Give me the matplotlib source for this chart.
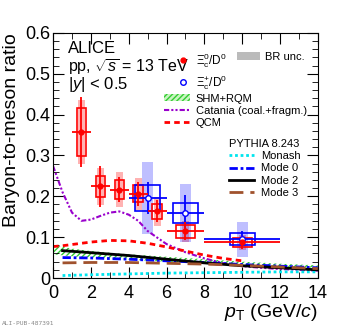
import matplotlib
matplotlib.use('Agg')
import matplotlib.pyplot as plt
import numpy as np
from matplotlib.patches import Rectangle, Patch
from matplotlib.lines import Line2D
from matplotlib.ticker import MultipleLocator

plt.rcParams['font.family'] = ['Liberation Sans', 'DejaVu Sans']
plt.rcParams['mathtext.fontset'] = 'custom'
plt.rcParams['mathtext.rm'] = 'Liberation Sans'
plt.rcParams['mathtext.it'] = 'Liberation Sans:italic'
plt.rcParams['hatch.linewidth'] = 1.0

# Xi_c0 / D0
pt_xi0 = [1.5, 2.5, 3.5, 4.5, 5.5, 7.0, 10.0]
bin_xi0 = [0.5, 0.5, 0.5, 0.5, 0.5, 1.0, 2.0]
ratio_xi0 = [0.357, 0.224, 0.216, 0.206, 0.163, 0.114, 0.087]
stat_xi0 = [0.086, 0.050, 0.031, 0.029, 0.027, 0.022, 0.015]
syst_xi0 = [0.058, 0.025, 0.023, 0.021, 0.018, 0.015, 0.012]
br_xi0 = [0.078, 0.045, 0.043, 0.039, 0.036, 0.025, 0.018]

# Xi_c+ / D0
pt_xip = [5.0, 7.0, 10.0]
bin_xip = [1.0, 1.0, 2.0]
ratio_xip = [0.196, 0.159, 0.095]
stat_xip = [0.040, 0.045, 0.020]
syst_xip = [0.032, 0.024, 0.014]
br_xip = [0.088, 0.072, 0.043]

# models
pt_cat = [0, 0.5, 1, 1.5, 2, 2.5, 3, 3.5, 4, 4.5, 5, 5.5, 6, 7, 8, 9, 10, 11, 12, 13, 14]
catania = [0.274, 0.21, 0.16, 0.14, 0.143, 0.152, 0.16, 0.163, 0.155, 0.14, 0.115, 0.099,
           0.083, 0.063, 0.048, 0.036, 0.029, 0.025, 0.022, 0.02, 0.018]
pt_qcm = [0, 0.5, 1, 1.5, 2, 3, 4, 5, 6, 7, 8, 9, 10]
qcm = [0.077, 0.079, 0.082, 0.085, 0.088, 0.092, 0.091, 0.085, 0.076, 0.066, 0.056, 0.048, 0.042]
pt_shm = [0, 1, 2, 3, 4, 6, 8, 10, 12, 14]
shm_lo = [0.058, 0.053, 0.050, 0.048, 0.045, 0.040, 0.035, 0.031, 0.028, 0.025]
shm_hi = [0.081, 0.072, 0.066, 0.062, 0.058, 0.052, 0.046, 0.040, 0.035, 0.031]
pt_py = [0.5, 2, 4, 6, 8, 10, 12, 14]
monash = [0.006, 0.008, 0.010, 0.012, 0.013, 0.014, 0.015, 0.015]
mode0 = [0.050, 0.049, 0.046, 0.042, 0.038, 0.033, 0.029, 0.025]
mode2 = [0.067, 0.062, 0.055, 0.046, 0.037, 0.030, 0.025, 0.020]
mode3 = [0.037, 0.038, 0.038, 0.036, 0.034, 0.031, 0.027, 0.023]

x_ticks = [0, 2, 4, 6, 8, 10, 12, 14]
y_ticks = [0, 0.1, 0.2, 0.3, 0.4, 0.5, 0.6]
y_ticklabels = ['0', '0.1', '0.2', '0.3', '0.4', '0.5', '0.6']

fig = plt.figure(figsize=(3.54, 3.29), dpi=100)
ax = fig.add_axes([0.150, 0.155, 0.748, 0.745])

# models
ax.fill_between(pt_shm, shm_lo, shm_hi, facecolor='none', edgecolor='#33cc33', hatch='//////', linewidth=0)
ax.plot(pt_cat, catania, color='#9900cc', lw=1.5, ls=(0, (2.5, 1, 1, 1, 1, 1)))
ax.plot(pt_qcm, qcm, color='#ff0000', lw=2, ls=(0, (2, 1.5)))
ax.plot(pt_py, monash, color='#00e5ee', lw=2, ls=(0, (1, 1)))
ax.plot(pt_py, mode0, color='#0000ff', lw=2, ls=(0, (3, 1, 1, 1)))
ax.plot(pt_py, mode2, color='black', lw=2)
ax.plot(pt_py, mode3, color='#a0522d', lw=2, ls=(0, (5, 2.5)))

# BR uncertainty boxes
for x, y, e in zip(pt_xi0, ratio_xi0, br_xi0):
    ax.add_patch(Rectangle((x - 0.18, y - e), 0.36, 2 * e, facecolor='#ff0000', alpha=0.3, lw=0))
for x, y, e in zip(pt_xip, ratio_xip, br_xip):
    ax.add_patch(Rectangle((x - 0.3, y - e), 0.6, 2 * e, facecolor='#0000ff', alpha=0.25, lw=0))

# systematic boxes
for x, w, y, e in zip(pt_xi0, bin_xi0, ratio_xi0, syst_xi0):
    hw = 0.25 if w < 1 else 0.5
    ax.add_patch(Rectangle((x - hw, y - e), 2 * hw, 2 * e, facecolor='none', edgecolor='#ff0000', lw=1.2))
for x, y, e in zip(pt_xip, ratio_xip, syst_xip):
    ax.add_patch(Rectangle((x - 0.65, y - e), 1.3, 2 * e, facecolor='none', edgecolor='#0000ff', lw=1.2))

# stat errors
ax.errorbar(pt_xip, ratio_xip, xerr=bin_xip, yerr=stat_xip, fmt='o', ms=4, mfc='white', mec='#0000ff',
            mew=1, ecolor='#0000ff', elinewidth=1.3, capsize=0)
ax.errorbar(pt_xi0, ratio_xi0, xerr=bin_xi0, yerr=stat_xi0, fmt='o', ms=3.5, color='#ff0000',
            ecolor='#ff0000', elinewidth=1.3, capsize=0)

ax.set_xlim(0, 14)
ax.set_ylim(0, 0.6)
ax.set_xticks(x_ticks)
ax.set_yticks(y_ticks)
ax.set_yticklabels(y_ticklabels)
ax.xaxis.set_minor_locator(MultipleLocator(1))
ax.yaxis.set_minor_locator(MultipleLocator(0.02))
ax.tick_params(which='both', direction='in', top=True, right=True, labelsize=13)
ax.tick_params(axis='y', pad=2)
ax.tick_params(axis='x', pad=5)
ax.tick_params(which='major', length=8)
ax.tick_params(which='minor', length=4)

ax.set_ylabel('Baryon-to-meson ratio', fontsize=14, loc='top', labelpad=4)
ax.set_xlabel(r'$p_{\rm T}$ (GeV/$c$)', fontsize=14, loc='right', labelpad=0)

ax.text(0.055, 0.935, 'ALICE', transform=ax.transAxes, fontsize=12, va='center')
ax.text(0.055, 0.862, r'pp, $\sqrt{s}$ = 13 TeV', transform=ax.transAxes, fontsize=11.5, va='center')
ax.text(0.055, 0.79, r'$|y|$ < 0.5', transform=ax.transAxes, fontsize=12, va='center')

h_xi0 = Line2D([], [], ls='none', marker='o', ms=3.5, color='#ff0000')
h_xip = Line2D([], [], ls='none', marker='o', ms=4, mfc='white', mec='#0000ff')
leg1 = ax.legend([h_xi0, h_xip], [r'$\Xi_{\rm c}^{0}/{\rm D}^{0}$', r'$\Xi_{\rm c}^{+}/{\rm D}^{0}$'],
                 loc='upper left', bbox_to_anchor=(0.445, 0.95), frameon=False, fontsize=8.5,
                 borderpad=0, handlelength=1.0, handletextpad=0.6, labelspacing=0.3)
ax.add_artist(leg1)
leg2 = ax.legend([Patch(facecolor='#bbbbbb', edgecolor='none')], ['BR unc.'],
                 loc='upper left', bbox_to_anchor=(0.675, 0.945), frameon=False, fontsize=8,
                 borderpad=0, handlelength=2.0, handleheight=0.6, handletextpad=0.5)
ax.add_artist(leg2)
leg3 = ax.legend([Patch(facecolor='#c8f5c0', edgecolor='#33cc33', hatch='//////', lw=0),
                  Line2D([], [], color='#9900cc', lw=1.5, ls=(0, (2.5, 1, 1, 1, 1, 1))),
                  Line2D([], [], color='#ff0000', lw=2, ls=(0, (2, 1.5)))],
                 ['SHM+RQM', 'Catania (coal.+fragm.)', 'QCM'],
                 loc='upper left', bbox_to_anchor=(0.396, 0.775), frameon=False, fontsize=8,
                 borderpad=0, handlelength=2.4, handleheight=0.6, handletextpad=0.5, labelspacing=0.2)
ax.add_artist(leg3)
leg4 = ax.legend([Line2D([], [], color='#00e5ee', lw=2, ls=(0, (1, 1))),
                  Line2D([], [], color='#0000ff', lw=2, ls=(0, (3, 1, 1, 1))),
                  Line2D([], [], color='black', lw=2),
                  Line2D([], [], color='#a0522d', lw=2, ls=(0, (5, 2.5)))],
                 ['Monash', 'Mode 0', 'Mode 2', 'Mode 3'],
                 title='PYTHIA 8.243', title_fontsize=8, alignment='left',
                 loc='upper left', bbox_to_anchor=(0.642, 0.59), frameon=False, fontsize=8,
                 borderpad=0, handlelength=2.3, handletextpad=0.6, labelspacing=0.2)

fig.text(0.005, 0.012, 'ALI-PUB-487391', fontsize=4.5, color='#888888', family='DejaVu Sans Mono')

fig.savefig('out.png', dpi=100)
